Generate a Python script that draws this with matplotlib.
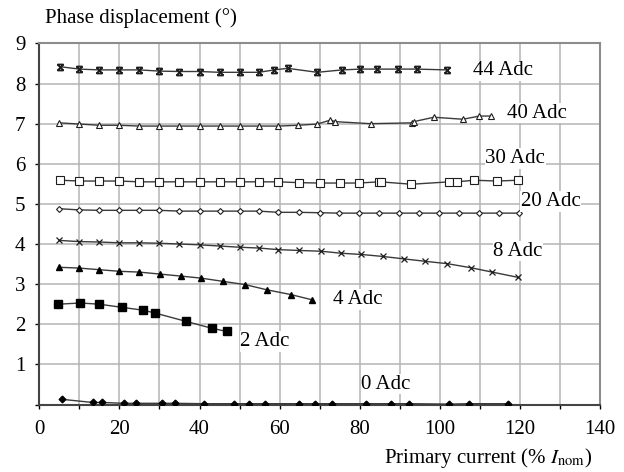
import matplotlib
matplotlib.use('Agg')
import matplotlib.pyplot as plt
from matplotlib.path import Path

plt.rcParams['font.family'] = ['Liberation Serif', 'DejaVu Serif']
plt.rcParams['mathtext.fontset'] = 'stix'

# readings for each dc bias level
x44 = [5.2, 10, 15, 20, 25, 30, 35, 40, 45, 50, 54.8, 58.7, 62, 69.4, 75.6, 80.2, 84.3, 89.5, 94.3, 101.8]
y44 = [8.42, 8.36, 8.34, 8.34, 8.34, 8.31, 8.30, 8.30, 8.28, 8.28, 8.28, 8.34, 8.38, 8.28, 8.34, 8.36, 8.36, 8.36, 8.36, 8.34]

x40 = [5, 10, 15, 20, 25, 30, 35, 40, 45, 50, 54.8, 59.7, 64.5, 69.4, 72.7, 73.9, 82.7, 93.1, 93.5, 98.5, 105.8, 109.9, 112.9]
y40 = [7.02, 6.99, 6.96, 6.96, 6.94, 6.94, 6.94, 6.94, 6.94, 6.94, 6.94, 6.94, 6.96, 6.99, 7.09, 7.05, 7.0, 7.02, 7.05, 7.16, 7.11, 7.19, 7.19]

x30 = [5.2, 10, 15, 20, 25, 30, 35, 40, 45, 50, 54.8, 59.7, 64.8, 70, 75, 79.8, 84.8, 85.2, 92.9, 102.4, 104.3, 108.5, 114.4, 119.5]
y30 = [5.59, 5.57, 5.57, 5.57, 5.55, 5.55, 5.55, 5.55, 5.55, 5.55, 5.55, 5.55, 5.53, 5.52, 5.52, 5.52, 5.55, 5.55, 5.49, 5.55, 5.55, 5.59, 5.57, 5.59]

x20 = [5, 10, 15, 20, 25, 30, 35, 40, 45, 50, 54.8, 59.7, 64.8, 70, 74.8, 79.8, 84.9, 89.8, 94.8, 99.8, 104.8, 109.8, 114.8, 119.8]
y20 = [4.88, 4.85, 4.84, 4.84, 4.84, 4.84, 4.82, 4.82, 4.82, 4.82, 4.82, 4.79, 4.79, 4.78, 4.77, 4.77, 4.77, 4.77, 4.77, 4.77, 4.77, 4.77, 4.77, 4.77]

x8 = [5, 10, 15, 20, 25, 30, 35, 40, 45, 50, 54.8, 59.7, 64.8, 70.4, 75.4, 80.4, 85.8, 91, 96.3, 101.9, 107.7, 113.1, 119.5]
y8 = [4.09, 4.06, 4.05, 4.03, 4.03, 4.02, 4.0, 3.98, 3.95, 3.92, 3.90, 3.86, 3.84, 3.82, 3.77, 3.74, 3.69, 3.63, 3.57, 3.51, 3.41, 3.30, 3.17]

x4 = [5.0, 10, 15, 20, 25, 30.2, 35.4, 40.4, 45.8, 51.3, 56.8, 62.8, 68.1]
y4 = [3.42, 3.40, 3.36, 3.32, 3.30, 3.25, 3.20, 3.15, 3.07, 2.99, 2.86, 2.74, 2.61]

x2 = [4.75, 10.2, 15, 20.75, 26, 28.9, 36.7, 43.1, 46.85]
y2 = [2.50, 2.53, 2.50, 2.42, 2.35, 2.28, 2.07, 1.90, 1.82]

x0 = [5.6, 13.35, 15.6, 21.25, 24.2, 30.6, 33.9, 41, 48.5, 52.25, 56.4, 64.75, 68.9, 73.1, 81.7, 87.7, 92.4, 102.3, 107.3, 117]
y0 = [0.13, 0.05, 0.05, 0.03, 0.03, 0.03, 0.03, 0.02, 0.02, 0.02, 0.02, 0.02, 0.02, 0.02, 0.02, 0.02, 0.02, 0.01, 0.02, 0.02]

labels = ['44 Adc', '40 Adc', '30 Adc', '20 Adc', '8 Adc', '4 Adc', '2 Adc', '0 Adc']
label_pos = [(108.4, 8.32), (116.7, 7.26), (111.4, 6.13), (120.2, 5.06),
             (113.4, 3.82), (73.4, 2.62), (50.2, 1.57), (80.4, 0.51)]

# x with bars on top and bottom (excel style star)
star = Path([(-1, -1), (1, 1), (-1, 1), (1, -1), (-1, 1), (1, 1), (-1, -1), (1, -1)],
            [Path.MOVETO, Path.LINETO, Path.MOVETO, Path.LINETO,
             Path.MOVETO, Path.LINETO, Path.MOVETO, Path.LINETO])

fig = plt.figure(figsize=(6.24, 4.72), dpi=100)
ax = fig.add_axes([0.063, 0.143, 0.8985, 0.765])

lc = '#3a3a3a'
mc = '#1e1e1e'
series = [
    (x44, y44, dict(marker=star, ms=4.3, mec=mc, mew=1.3)),
    (x40, y40, dict(marker='^', ms=4.2, mfc='white', mec=mc, mew=0.8)),
    (x30, y30, dict(marker='s', ms=5.2, mfc='white', mec=mc, mew=0.8)),
    (x20, y20, dict(marker='D', ms=3.0, mfc='white', mec=mc, mew=0.8)),
    (x8, y8, dict(marker='x', ms=4.5, mec=mc, mew=0.9)),
    (x4, y4, dict(marker='^', ms=4.8, mfc='k', mec='k')),
    (x2, y2, dict(marker='s', ms=5.6, mfc='k', mec='k')),
    (x0, y0, dict(marker='D', ms=3.4, mfc='k', mec='k')),
]
for xs, ys, st in series:
    ax.plot(xs, ys, color=lc, lw=1.0, zorder=3, **st)

for lab, (lx, ly) in zip(labels, label_pos):
    ax.text(lx, ly, lab, fontsize=15, ha='left', va='center', zorder=4,
            bbox=dict(facecolor='white', edgecolor='none', pad=0.5))

ax.set_xlim(0, 140)
ax.set_ylim(0, 9)
ax.set_xticks(range(0, 141, 20))
ax.set_xticks(range(0, 141, 10), minor=True)
ax.set_yticks(range(1, 10))
ax.set_yticks(range(0, 10), minor=True)
ax.grid(True, which='both', color='#b4b4b4', lw=1.1, zorder=0)
ax.tick_params(axis='both', which='both', direction='out', length=3, width=1, labelsize=15)
ax.tick_params(axis='x', pad=8)
ax.tick_params(axis='y', pad=7)

for s in ['top', 'right']:
    ax.spines[s].set_color('#8c8c8c')
    ax.spines[s].set_linewidth(1.5)
for s in ['left', 'bottom']:
    ax.spines[s].set_color('#444444')
    ax.spines[s].set_linewidth(1.5)

fig.text(0.072, 0.962, 'Phase displacement (°)', fontsize=15, ha='left', va='center')
fig.text(0.949, 0.03, r'Primary current (% $I_{\mathrm{nom}}$)', fontsize=15, ha='right', va='center')

fig.savefig('out.png', dpi=100)
